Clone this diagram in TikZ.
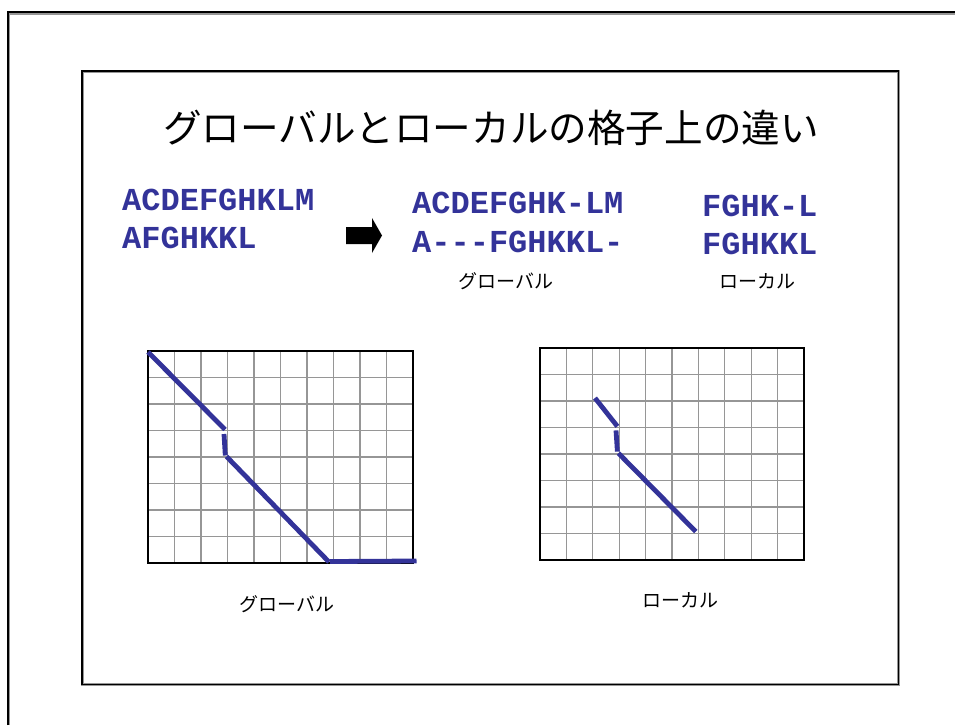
\documentclass[tikz,border=0pt]{standalone}
\usepackage{fontspec}
\newfontfamily\jpfont{Noto Sans CJK JP}
\newfontfamily\seqfont{Liberation Mono}
\definecolor{seqblue}{RGB}{51,51,153}
\definecolor{gridgray}{RGB}{150,150,150}
\begin{document}
\begin{tikzpicture}[x=1pt,y=-1pt,
  seqtext/.style={font=\seqfont\bfseries\fontsize{32}{32}\selectfont, text=seqblue, inner sep=0pt, anchor=base west},
  jplabel/.style={font=\jpfont\fontsize{19}{19}\selectfont, inner sep=0pt},
  titletext/.style={font=\jpfont\fontsize{38.6}{40}\selectfont, inner sep=0pt},
  gridline/.style={draw=gridgray, line width=1.2},
  gridframe/.style={draw=black, line width=1.2},
  pathline/.style={draw=seqblue, line width=4.8, line cap=butt}
]
\useasboundingbox (0,0) rectangle (955,725);

% outer frame (only left and top visible)
\draw[gridgray, line width=3.5] (8.5,725) -- (8.5,12.8) -- (955,12.8);
\draw[black, line width=2] (8,725) -- (8,12.3) -- (955,12.3);

% inner slide box
\draw[gridgray, line width=3] (82,71) rectangle (898.5,684.5);
\draw[black, line width=1.6] (82,71) rectangle (898.5,684.5);

% title
\node[titletext] (title) at (491,127.5) {グローバルとローカルの格子上の違い};

% sequences
\node[seqtext] (s1) at (122,210) {ACDEFGHKLM};
\node[seqtext] (s2) at (122,248) {AFGHKKL};
\node[seqtext] (g1) at (412,213) {ACDEFGHK-LM};
\node[seqtext] (g2) at (412,252) {A---FGHKKL-};
\node[seqtext] (l1) at (702,216) {FGHK-L};
\node[seqtext] (l2) at (702,254) {FGHKKL};

% block arrow
\fill[black] (346,227) -- (372,227) -- (372,218) -- (382,235.5) -- (372,253) -- (372,244) -- (346,244) -- cycle;

% labels under alignments
\node[jplabel] (glab) at (506,281) {グローバル};
\node[jplabel] (llab) at (757,281) {ローカル};

% left grid
\foreach \i in {1,...,9} \draw[gridline] ({148+26.5*\i},351) -- ({148+26.5*\i},563);
\foreach \j in {1,...,7} \draw[gridline] (148,{351+26.5*\j}) -- (413,{351+26.5*\j});
\draw[gridframe] (148,351) rectangle (413,563);

% right grid
\foreach \i in {1,...,9} \draw[gridline] ({540+26.4*\i},348) -- ({540+26.4*\i},560);
\foreach \j in {1,...,7} \draw[gridline] (540,{348+26.5*\j}) -- (804,{348+26.5*\j});
\draw[gridframe] (540,348) rectangle (804,560);

% global path
\draw[pathline] (148,352) -- (225,429.5);
\draw[pathline] (224,434) -- (225.3,455.5);
\draw[pathline] (226.5,456.5) -- (329,562);
\draw[pathline] (330,561.5) -- (416.5,561);

% local path
\draw[pathline] (595,398) -- (617.4,426.4);
\draw[pathline] (616,430.4) -- (617.4,451.6);
\draw[pathline] (618.4,453.2) -- (695.8,531.6);

% labels under grids
\node[jplabel] (glab2) at (287,604) {グローバル};
\node[jplabel] (llab2) at (680,600) {ローカル};
\end{tikzpicture}
\end{document}
